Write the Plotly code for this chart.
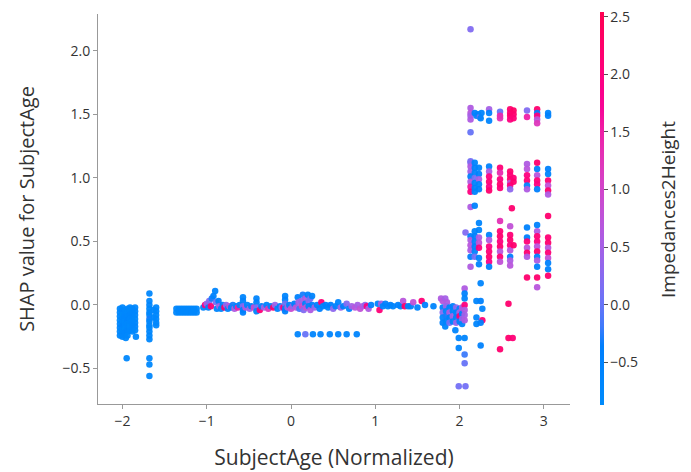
import math
import plotly.graph_objects as go

# ---- data: (SubjectAge normalized, SHAP value, Impedances2Height) ----
pts_young = [
    (-2.03,-0.03,-0.70),(-2.03,-0.06,-0.75),(-2.03,-0.09,-0.68),(-2.03,-0.12,-0.78),(-2.03,-0.15,-0.72),(-2.03,-0.18,-0.66),(-2.03,-0.21,-0.74),(-2.03,-0.24,-0.70),
    (-2.00,-0.02,-0.72),(-2.00,-0.05,-0.64),(-2.00,-0.08,-0.78),(-2.00,-0.11,-0.70),(-2.00,-0.14,-0.74),(-2.00,-0.17,-0.62),(-2.00,-0.20,-0.76),(-2.00,-0.23,-0.70),(-2.00,-0.25,-0.68),
    (-1.97,-0.04,-0.76),(-1.97,-0.07,-0.70),(-1.97,-0.10,-0.66),(-1.97,-0.13,-0.74),(-1.97,-0.16,-0.70),(-1.97,-0.19,-0.78),(-1.97,-0.22,-0.64),(-1.96,-0.26,-0.72),
    (-1.94,-0.03,-0.68),(-1.94,-0.06,-0.74),(-1.94,-0.09,-0.72),(-1.94,-0.12,-0.60),(-1.94,-0.15,-0.76),(-1.94,-0.18,-0.70),(-1.94,-0.21,-0.66),(-1.94,-0.24,-0.74),
    (-1.91,-0.02,-0.70),(-1.91,-0.05,-0.76),(-1.91,-0.08,-0.64),(-1.91,-0.11,-0.72),(-1.91,-0.14,-0.70),(-1.91,-0.17,-0.78),(-1.91,-0.20,-0.68),
    (-1.88,-0.03,-0.74),(-1.88,-0.06,-0.70),(-1.88,-0.09,-0.66),(-1.88,-0.12,-0.76),(-1.88,-0.15,-0.72),(-1.88,-0.18,-0.68),(-1.88,-0.21,-0.74),
    (-1.85,-0.02,-0.70),(-1.85,-0.05,-0.64),(-1.85,-0.08,-0.72),(-1.85,-0.11,-0.76),(-1.85,-0.14,-0.70),(-1.85,-0.17,-0.66),(-1.85,-0.20,-0.74),(-1.84,-0.25,-0.70),
    (-1.95,-0.42,-0.72),
    (-1.68,0.09,-0.70),(-1.68,0.03,-0.72),(-1.68,0.00,-0.66),(-1.68,-0.03,-0.74),(-1.68,-0.06,-0.70),(-1.68,-0.08,-0.68),(-1.68,-0.11,-0.30),(-1.68,-0.13,-0.72),
    (-1.68,-0.16,-0.70),(-1.68,-0.18,-0.76),(-1.68,-0.21,-0.70),(-1.68,-0.24,-0.68),(-1.68,-0.27,-0.72),(-1.68,-0.42,-0.70),(-1.68,-0.47,-0.74),(-1.68,-0.56,-0.70),
    (-1.60,-0.02,-0.70),(-1.60,-0.05,-0.66),(-1.60,-0.08,-0.72),(-1.60,-0.11,-0.70),(-1.60,-0.14,-0.74),(-1.60,-0.16,-0.68),(-1.63,-0.04,-0.70),(-1.63,-0.10,-0.72),
    (-1.36,-0.03,-0.70),(-1.33,-0.06,-0.72),(-1.30,-0.03,-0.68),(-1.27,-0.06,-0.74),(-1.24,-0.03,-0.70),(-1.21,-0.06,-0.66),(-1.18,-0.03,-0.72),(-1.15,-0.06,-0.70),(-1.12,-0.03,-0.74),
    (-1.36,-0.06,-0.70),(-1.33,-0.03,-0.70),(-1.30,-0.06,-0.72),(-1.27,-0.03,-0.70),(-1.24,-0.06,-0.68),(-1.21,-0.03,-0.72),(-1.18,-0.06,-0.70),(-1.15,-0.03,-0.74),(-1.12,-0.06,-0.70),
]

pts_middle = [
    (-1.04,-0.02,-0.6),(-1.02,0.00,2.0),(-1.00,0.01,0.4),(-0.98,-0.02,-0.5),(-0.97,0.03,0.2),(-0.95,-0.01,2.1),(-0.94,0.05,-0.3),(-0.92,0.07,-0.5),
    (-0.90,0.11,-0.6),(-0.89,0.02,0.1),(-0.88,-0.03,-0.6),(-0.86,0.03,-0.4),(-0.85,-0.01,0.5),(-0.83,-0.03,-0.7),(-0.81,0.00,-0.5),(-0.79,-0.02,2.2),
    (-0.77,0.00,0.3),(-0.75,-0.03,-0.6),(-0.73,-0.01,0.8),(-0.71,-0.02,-0.5),(-0.69,0.00,-0.3),(-0.67,-0.03,0.6),(-0.65,-0.01,-0.6),(-0.63,-0.02,1.5),(-0.61,0.00,-0.5),
    (-0.57,0.06,-0.6),(-0.57,0.03,-0.5),(-0.57,-0.01,0.2),(-0.57,-0.04,-0.6),(-0.57,-0.06,-0.4),
    (-0.54,-0.02,0.7),(-0.52,0.00,-0.6),(-0.49,-0.03,0.4),(-0.47,-0.01,-0.5),(-0.44,-0.02,1.0),
    (-0.41,0.05,-0.6),(-0.41,0.02,-0.5),(-0.41,-0.02,0.1),(-0.41,-0.05,-0.6),
    (-0.37,-0.04,2.1),(-0.35,-0.01,-0.4),(-0.32,-0.02,0.5),(-0.29,0.00,-0.6),(-0.27,-0.03,1.2),(-0.24,-0.01,-0.5),(-0.21,-0.02,2.2),(-0.19,0.00,0.4),
    (-0.16,-0.03,-0.6),(-0.13,-0.01,-0.5),(-0.11,-0.02,0.3),(-0.09,-0.02,2.0),
    (-0.07,0.07,-0.6),(-0.07,0.04,-0.5),(-0.07,0.01,0.0),(-0.07,-0.03,-0.6),(-0.07,-0.05,-0.4),
    (-0.04,-0.02,0.6),(-0.02,0.00,-0.5),(0.00,-0.03,0.9),(0.02,-0.01,0.3),(0.04,0.01,-0.4),(0.06,-0.02,0.7),
    (0.08,0.06,-0.5),(0.09,0.02,0.5),(0.10,-0.03,-0.2),(0.12,0.03,0.4),(0.13,-0.01,1.0),(0.14,0.08,-0.3),(0.15,-0.04,0.2),(0.17,0.05,0.6),
    (0.17,0.01,-0.4),(0.18,-0.02,0.8),(0.20,0.08,-0.5),(0.21,0.03,0.3),(0.21,-0.01,-0.5),(0.23,0.05,0.1),(0.23,-0.04,0.6),(0.25,0.00,-0.4),(0.25,0.07,-0.6),
    (0.28,-0.02,0.4),(0.31,0.00,-0.5),(0.34,-0.03,-0.4),(0.36,0.02,2.1),(0.38,-0.01,-0.6),(0.41,0.00,-0.5),(0.44,-0.02,-0.6),(0.47,0.00,-0.4),
    (0.50,-0.03,0.3),(0.53,-0.01,-0.5),(0.56,0.02,-0.6),(0.59,-0.02,0.4),(0.62,-0.01,-0.5),(0.66,0.01,0.2),(0.69,-0.03,-0.6),(0.72,-0.01,0.5),
    (0.76,-0.02,0.7),(0.79,0.00,0.5),(0.82,-0.03,0.8),(0.85,-0.01,0.6),(0.88,0.00,0.3),(0.90,-0.01,2.0),(0.92,-0.03,0.6),(0.95,0.00,-0.5),
    (1.03,0.01,-0.6),(1.05,-0.04,2.1),(1.07,0.01,0.5),(1.09,-0.01,-0.6),(1.12,0.01,-0.5),(1.15,-0.01,-0.6),(1.18,0.00,-0.5),(1.21,-0.01,-0.6),
    (1.27,0.00,-0.5),(1.30,-0.01,-0.6),(1.33,0.03,0.7),(1.35,-0.01,2.2),(1.39,-0.01,-0.6),(1.42,-0.01,-0.5),(1.45,0.02,0.8),(1.50,-0.02,-0.6),
    (1.55,0.03,2.1),(1.59,0.00,-0.5),(1.69,-0.01,-0.6),
    (0.08,-0.23,-0.6),(0.17,-0.23,0.0),(0.26,-0.23,-0.6),(0.35,-0.23,-0.6),(0.46,-0.23,-0.6),(0.56,-0.23,-0.6),(0.66,-0.23,-0.6),(0.78,-0.23,-0.6),
]

pts_turn = [
    (1.78,0.05,0.6),(1.80,0.03,0.7),(1.83,0.05,0.5),(1.85,0.02,0.6),
    (1.80,-0.02,-0.5),(1.80,-0.06,0.2),(1.80,-0.10,-0.6),(1.80,-0.14,-0.5),
    (1.84,-0.01,0.4),(1.84,-0.05,-0.6),(1.84,-0.09,-0.3),(1.84,-0.13,-0.6),(1.83,-0.17,-0.6),
    (1.88,-0.02,-0.6),(1.88,-0.06,0.6),(1.88,-0.10,-0.5),(1.88,-0.14,0.1),
    (1.92,-0.01,-0.5),(1.92,-0.05,-0.6),(1.92,-0.09,0.5),(1.92,-0.13,-0.6),
    (1.96,-0.02,0.3),(1.96,-0.06,-0.6),(1.96,-0.10,-0.4),(1.96,-0.14,0.4),(1.95,-0.20,-0.6),
    (2.00,-0.03,-0.6),(2.00,-0.06,0.5),(2.00,-0.09,2.1),(2.00,-0.13,-0.5),
    (2.03,-0.02,0.6),(2.03,-0.07,-0.5),(2.03,-0.11,0.3),(2.03,-0.15,-0.6),
    (2.06,0.13,0.6),(2.06,0.09,-0.5),(2.06,0.05,-0.6),(2.06,0.00,2.0),(2.06,-0.04,0.6),(2.06,-0.08,0.5),(2.06,-0.12,0.6),
    (1.99,-0.26,-0.6),(2.06,-0.26,-0.6),(1.99,-0.34,-0.6),(2.06,-0.39,-0.2),(2.06,-0.46,0.0),(1.99,-0.64,0.1),(2.07,-0.64,0.1),
    (2.25,0.17,-0.6),(2.20,0.03,-0.6),(2.25,0.03,-0.5),(2.27,-0.03,-0.6),(2.20,-0.10,-0.6),(2.27,-0.12,2.1),(2.20,-0.15,-0.6),(2.25,-0.14,-0.5),(2.25,-0.32,-0.5),
    (2.58,0.01,2.2),(2.58,-0.26,2.2),(2.63,-0.26,2.1),(2.48,-0.35,2.2),
]

pts_old = [
    (2.13,2.17,0.2),(2.13,1.36,0.0),(2.13,1.13,0.1),
    (2.13,1.55,0.6),(2.13,1.51,0.7),(2.13,1.49,0.5),(2.13,1.46,0.6),
    (2.18,1.51,-0.5),(2.20,1.49,-0.6),(2.22,1.50,-0.5),(2.24,1.48,0.0),(2.26,1.51,-0.6),(2.25,1.47,-0.6),
    (2.35,1.54,0.5),(2.35,1.51,-0.5),(2.35,1.45,-0.6),
    (2.48,1.52,0.0),(2.48,1.49,1.4),(2.48,1.47,1.3),
    (2.60,1.54,2.2),(2.60,1.51,2.1),(2.60,1.49,2.2),(2.60,1.46,2.0),(2.64,1.53,2.3),(2.64,1.50,2.2),(2.64,1.47,2.1),
    (2.80,1.53,0.2),(2.80,1.48,1.5),
    (2.92,1.54,2.2),(2.92,1.51,-0.4),(2.92,1.49,2.0),(2.92,1.46,0.7),(2.92,1.43,1.2),
    (3.05,1.51,-0.6),(3.05,1.49,-0.5),
    (2.13,1.12,0.2),(2.13,1.09,0.6),(2.13,1.05,0.5),(2.13,1.01,-0.4),(2.13,0.97,0.6),(2.13,0.93,1.6),(2.13,0.89,2.0),
    (2.18,1.12,-0.6),(2.18,1.08,-0.5),(2.18,1.04,-0.6),(2.18,1.00,0.1),(2.18,0.96,-0.6),(2.18,0.92,-0.5),(2.18,0.89,-0.6),
    (2.23,1.08,-0.6),(2.23,1.03,-0.5),(2.23,0.99,0.5),(2.23,0.95,-0.6),(2.23,0.91,-0.5),
    (2.35,1.09,-0.5),(2.35,1.05,0.6),(2.35,1.01,2.0),(2.35,0.97,2.1),(2.35,0.93,1.9),(2.35,0.90,2.2),
    (2.48,1.08,2.1),(2.48,1.04,1.4),(2.48,0.99,2.0),(2.48,0.95,2.2),(2.48,0.92,2.1),
    (2.60,1.05,2.2),(2.60,1.02,2.1),(2.60,0.99,2.2),(2.60,0.96,0.8),(2.60,0.94,2.0),(2.60,0.91,0.3),(2.64,1.00,2.1),(2.64,0.97,2.2),
    (2.80,1.11,0.6),(2.80,1.07,0.7),(2.80,1.02,2.0),(2.80,0.98,2.1),(2.80,0.94,-0.5),(2.80,0.91,0.6),
    (2.92,1.12,2.2),(2.92,1.07,-0.5),(2.92,1.02,0.7),(2.92,0.98,2.1),(2.92,0.95,2.0),(2.92,0.91,-0.4),
    (3.05,1.07,-0.5),(3.05,1.03,-0.6),(3.05,0.98,2.1),(3.05,0.94,0.8),(3.05,0.90,2.2),(3.05,0.87,0.6),
    (2.13,0.77,0.6),(2.18,0.78,-0.5),(2.62,0.76,2.2),
    (2.07,0.57,0.2),
    (2.13,0.54,-0.5),(2.13,0.51,0.6),(2.13,0.47,0.7),(2.13,0.43,0.6),(2.13,0.38,-0.4),(2.13,0.30,0.6),
    (2.18,0.58,-0.6),(2.18,0.54,-0.5),(2.18,0.50,-0.6),(2.18,0.46,-0.4),(2.18,0.42,-0.6),(2.18,0.38,0.1),
    (2.23,0.645,-0.6),(2.23,0.59,-0.6),(2.23,0.53,0.6),(2.23,0.49,0.8),(2.23,0.45,2.0),(2.23,0.37,-0.6),(2.23,0.32,-0.5),
    (2.35,0.55,-0.5),(2.35,0.51,0.6),(2.35,0.46,2.0),(2.35,0.42,2.1),(2.35,0.38,2.2),(2.35,0.34,1.9),(2.35,0.30,-0.4),
    (2.48,0.66,1.3),(2.48,0.58,2.1),(2.48,0.54,2.2),(2.48,0.50,2.0),(2.48,0.46,2.2),(2.48,0.42,0.7),(2.48,0.38,2.1),(2.48,0.34,0.8),
    (2.60,0.62,0.8),(2.60,0.55,2.1),(2.60,0.51,2.2),(2.60,0.47,2.0),(2.60,0.43,0.7),(2.60,0.38,-0.4),(2.60,0.35,0.6),(2.60,0.31,0.7),(2.64,0.47,2.2),
    (2.80,0.61,-0.5),(2.80,0.53,-0.4),(2.80,0.50,2.1),(2.80,0.45,0.7),(2.80,0.41,2.2),(2.80,0.38,0.6),(2.80,0.215,2.2),
    (2.92,0.63,-0.5),(2.92,0.58,0.6),(2.92,0.54,2.1),(2.92,0.50,2.0),(2.92,0.46,0.7),(2.92,0.42,2.2),(2.92,0.38,-0.4),(2.92,0.35,0.6),(2.92,0.30,-0.5),(2.92,0.215,2.2),(2.92,0.14,0.7),
    (3.05,0.70,2.2),(3.05,0.53,2.1),(3.05,0.49,2.2),(3.05,0.45,0.7),(3.05,0.41,2.1),(3.05,0.37,0.8),(3.05,0.33,-0.5),(3.05,0.28,-0.5),(3.05,0.23,2.2),
]

x_ticks = [-2, -1, 0, 1, 2, 3]
y_ticks = [-0.5, 0.0, 0.5, 1.0, 1.5, 2.0]
c_ticks = [-0.5, 0.0, 0.5, 1.0, 1.5, 2.0, 2.5]

# ---- SHAP red_blue colormap (linear in LCH) ----
def lch2rgb(L, C, h):
    a, b = C * math.cos(h), C * math.sin(h)
    fy = (L + 16) / 116
    fx, fz = fy + a / 500, fy - b / 200
    finv = lambda t: t ** 3 if t > 6 / 29 else 3 * (6 / 29) ** 2 * (t - 4 / 29)
    X, Y, Z = 0.95047 * finv(fx), finv(fy), 1.08883 * finv(fz)
    r = 3.2406 * X - 1.5372 * Y - 0.4986 * Z
    g = -0.9689 * X + 1.8758 * Y + 0.0415 * Z
    bb = 0.0557 * X - 0.2040 * Y + 1.0570 * Z
    def gam(c):
        c = 12.92 * c if c <= 0.0031308 else 1.055 * c ** (1 / 2.4) - 0.055
        return int(round(min(max(c, 0), 1) * 255))
    return f"rgb({gam(r)},{gam(g)},{gam(bb)})"

blue_lch = (54.0, 70.0, 4.6588)
red_lch = (54.0, 90.0, 0.35470565 + 2 * math.pi)
colorscale = []
for i in range(21):
    t = i / 20
    L, C, h = [bl * (1 - t) + rl * t for bl, rl in zip(blue_lch, red_lch)]
    colorscale.append([t, lch2rgb(L, C, h)])

all_pts = pts_young + pts_middle + pts_turn + pts_old
xs = [p[0] for p in all_pts]
ys = [p[1] for p in all_pts]
cs = [p[2] for p in all_pts]

FONT = "Open Sans"
TXT = "#333333"

# the page body adds an 8px offset, so the figure is laid out 8px smaller
W, H = 683, 464
L_M, R_M, T_M, B_M = 90, 121, 6, 68
PW, PH = W - L_M - R_M, H - T_M - B_M

fig = go.Figure(go.Scatter(
    x=xs, y=ys, mode="markers",
    marker=dict(
        size=6.5, color=cs, colorscale=colorscale, cmin=-0.87, cmax=2.54,
        line=dict(width=0), opacity=0.95,
        colorbar=dict(
            thickness=4, outlinewidth=0,
            lenmode="pixels", len=393,
            yref="paper", y=-1 / PH, yanchor="bottom",
            xref="paper", x=(592 - L_M) / PW, xanchor="left", xpad=0, ypad=0,
            tickvals=c_ticks, tickformat=".1f", ticks="outside", ticklen=4,
            ticklabeloverflow="allow",
            tickcolor="#555555", tickfont=dict(family=FONT, size=14, color=TXT),
        ),
    ),
    showlegend=False, hoverinfo="skip",
))

fig.add_annotation(
    text="Impedances2Height", textangle=-90, showarrow=False,
    xref="paper", yref="paper", x=(660 - L_M) / PW, y=(PH + T_M - 202) / PH,
    xanchor="center", yanchor="middle",
    font=dict(family=FONT, size=19, color=TXT),
)

fig.update_layout(
    width=W, height=H,
    margin=dict(l=L_M, r=R_M, t=T_M, b=B_M, autoexpand=False),
    paper_bgcolor="white", plot_bgcolor="white",
    font=dict(family=FONT, color=TXT),
)
fig.update_xaxes(
    range=[-2.29, 3.31], tickvals=x_ticks, showgrid=False, zeroline=False, automargin=False,
    showline=True, linecolor="#999999", linewidth=1,
    ticks="outside", ticklen=4, tickcolor="#999999",
    tickfont=dict(family=FONT, size=14, color=TXT),
    title=dict(text="SubjectAge (Normalized)", font=dict(family=FONT, size=21, color=TXT), standoff=21),
)
fig.update_yaxes(
    range=[-0.78, 2.29], tickvals=y_ticks, tickformat=".1f", showgrid=False, zeroline=False, automargin=False,
    showline=True, linecolor="#999999", linewidth=1,
    ticks="outside", ticklen=4, tickcolor="#999999",
    tickfont=dict(family=FONT, size=14, color=TXT),
    title=dict(text="SHAP value for SubjectAge", font=dict(family=FONT, size=20, color=TXT), standoff=22),
)

fig.write_html("out.html")
